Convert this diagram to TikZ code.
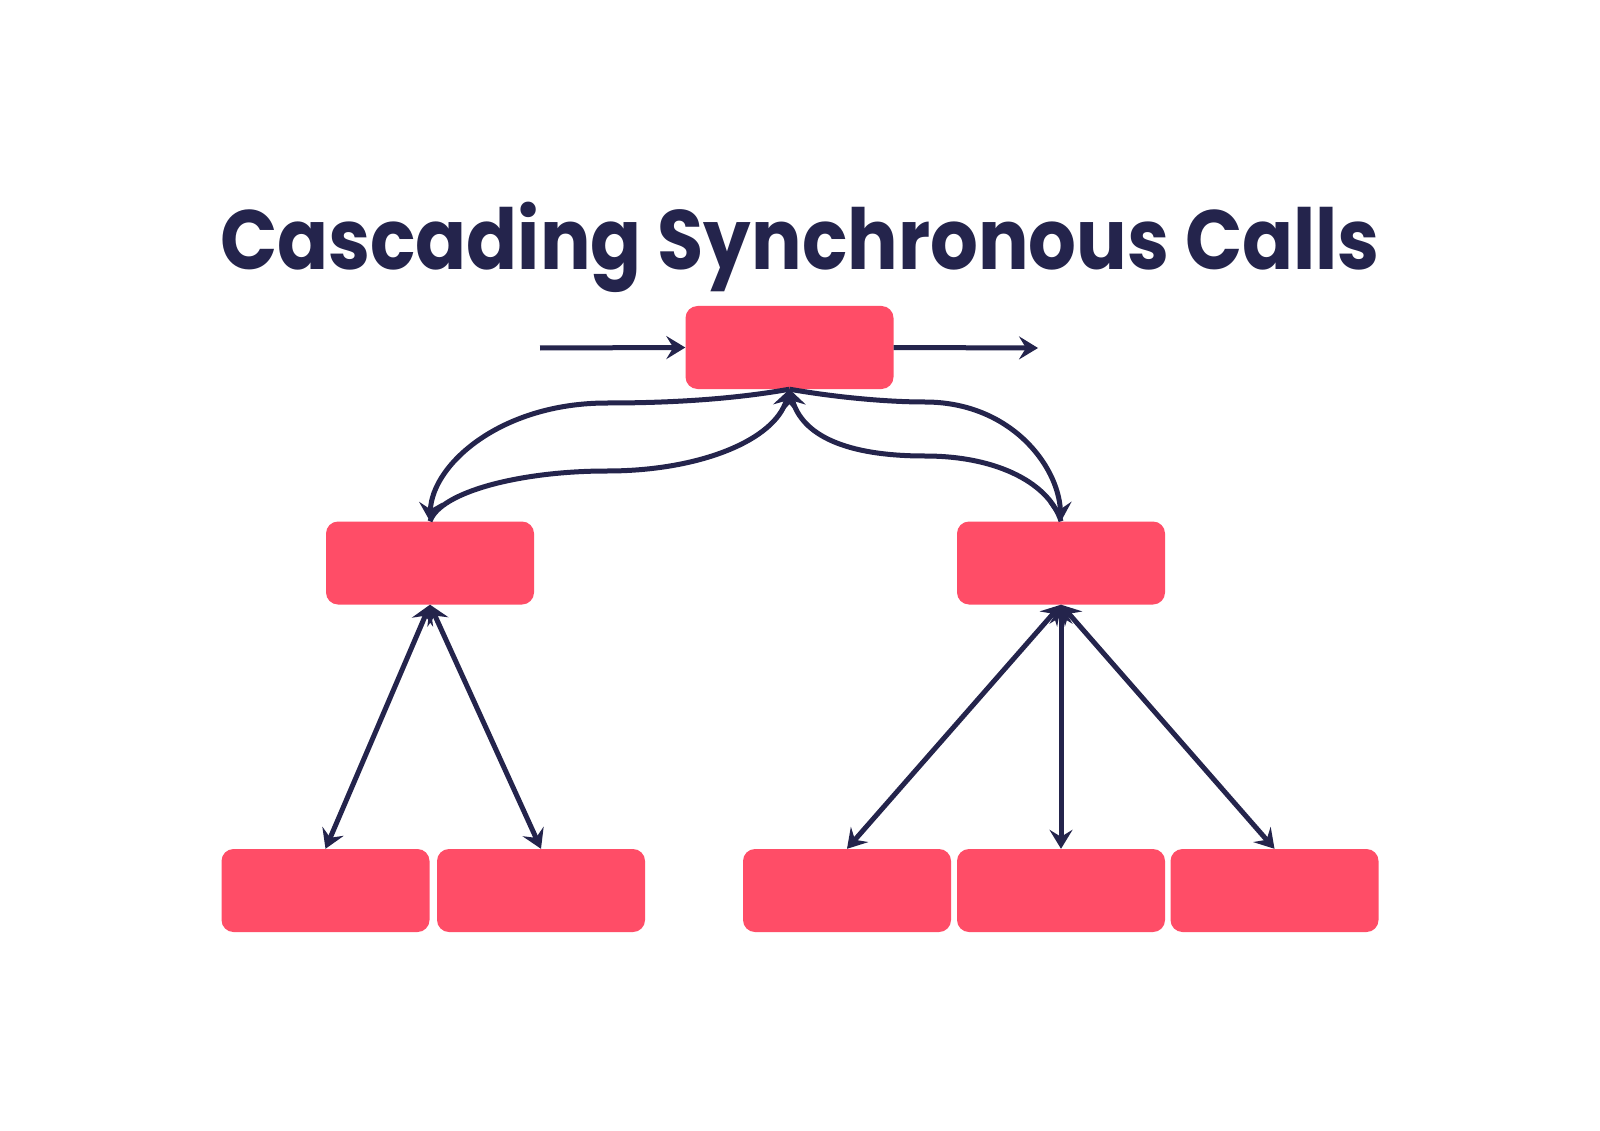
\documentclass[tikz,border=0pt]{standalone}
\usepackage{fontspec}
\newfontfamily\titlefont{Poppins}
\usetikzlibrary{arrows.meta}
\definecolor{navy}{HTML}{24244C}
\definecolor{boxred}{HTML}{FF4D67}
\tikzset{
  box/.style={fill=boxred, rounded corners=12pt, minimum width=208pt, minimum height=83pt, inner sep=0pt, draw=none},
  conn/.style={draw=navy, line width=5pt, -{Stealth[length=19pt,width=23pt,inset=7pt]}},
  biconn/.style={draw=navy, line width=5pt, {Stealth[length=19pt,width=23pt,inset=7pt]}-{Stealth[length=19pt,width=23pt,inset=7pt]}},
}
\begin{document}
\begin{tikzpicture}[x=1pt,y=-1pt]
\useasboundingbox[fill=white] (0,0) rectangle (1600,1131);
\node[text=navy, anchor=base, inner sep=0pt] (title) at (800,270)
  {\scalebox{1}[1.12]{\resizebox{1159pt}{!}{\titlefont\bfseries Cascading Synchronous Calls}}};
\node[box] (top) at (789.5,347.5) {};
\node[box] (ml) at (430,563) {};
\node[box] (mr) at (1061,563) {};
\node[box] (b1) at (325.5,890.5) {};
\node[box] (b2) at (541,890.5) {};
\node[box] (b3) at (847,890.5) {};
\node[box] (b4) at (1061,890.5) {};
\node[box] (b5) at (1274.5,890.5) {};
\coordinate (inL) at (540,348);
\coordinate (outR) at (1038,348);
\draw[conn] (inL) -- (top.west);
\draw[conn] (top.east) -- (outR);
% outer curves
\draw[conn] (top.south) .. controls (740,398) and (680,403) .. (607,403)
  .. controls (500,403) and (432,465) .. (ml.north);
\draw[conn] (top.south) .. controls (840,398) and (890,402) .. (925,402)
  .. controls (1010,402) and (1058,465) .. (mr.north);
% inner curves
\draw[conn] (ml.north) .. controls (440,492) and (520,471) .. (607,471)
  .. controls (700,471) and (775,440) .. (top.south);
\draw[conn] (mr.north) .. controls (1050,485) and (1000,456) .. (925,456)
  .. controls (845,456) and (802,435) .. (top.south);
% lower connectors
\draw[biconn] (ml.south) -- (b1.north);
\draw[biconn] (ml.south) -- (b2.north);
\draw[biconn] (mr.south) -- (b3.north);
\draw[biconn] (mr.south) -- (b4.north);
\draw[biconn] (mr.south) -- (b5.north);
\end{tikzpicture}
\end{document}
